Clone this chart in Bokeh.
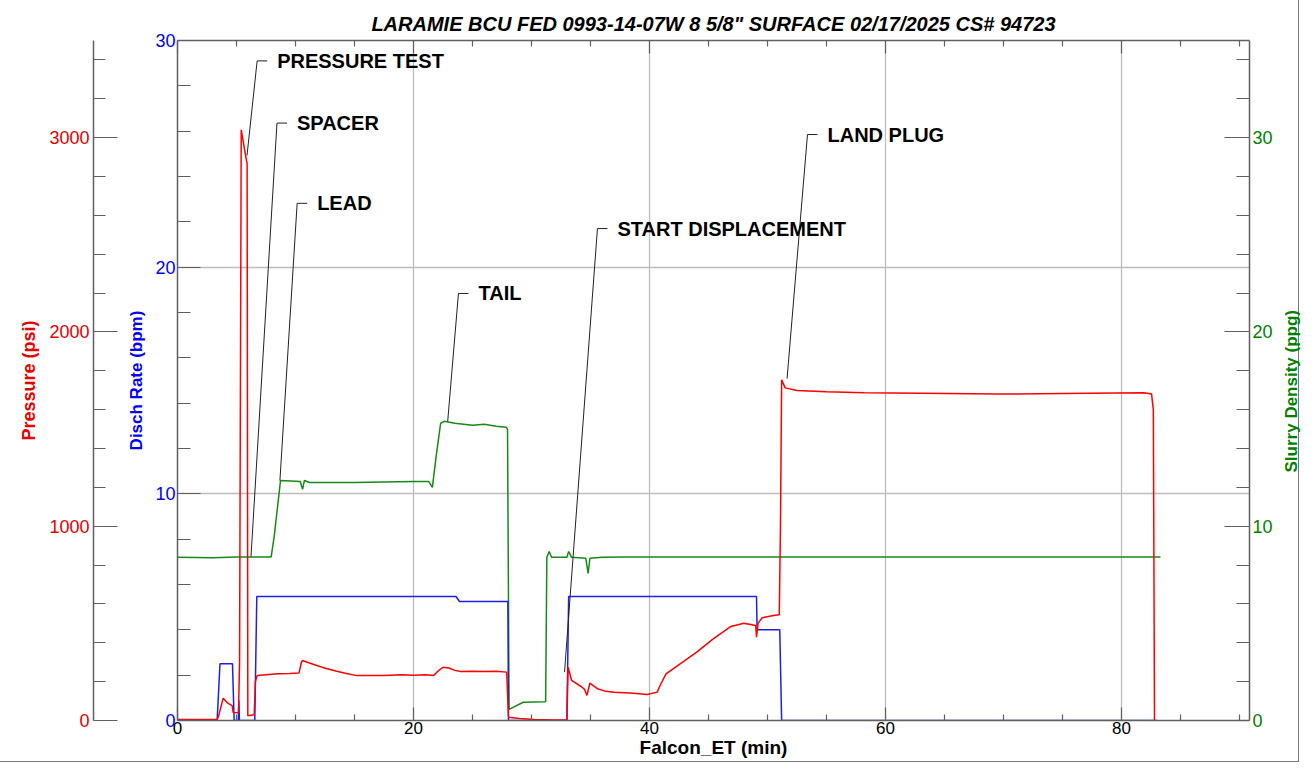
import math
from bokeh.plotting import figure
from bokeh.layouts import row
from bokeh.models import (LinearAxis, Range1d, FixedTicker, Title, ColumnDataSource, Div)
from bokeh.embed import file_html
from bokeh.resources import INLINE
from bokeh.core.properties import value

TITLE = 'LARAMIE BCU FED 0993-14-07W 8 5/8" SURFACE 02/17/2025 CS# 94723'
X_LABEL = "Falcon_ET (min)"
DENS_LABEL = "Slurry Density (ppg)"

# ---------------- data ----------------
press_t = [0, 3.35, 3.47, 3.87, 4.26, 4.63, 4.72, 5.17, 5.26, 5.4, 5.85, 5.9, 5.96, 6.5, 6.6, 6.75,
           7.5, 8.5, 9.5, 10.3, 10.5, 10.6, 11.0, 11.8, 12.6, 13.5, 14.3, 15.2, 16.5, 17.5, 19.0,
           20.0, 21.0, 21.7, 22.0, 22.5, 23.0, 23.5, 24.0, 25.0, 26.0, 27.0, 27.9, 28.05, 29.0,
           30.2, 32.0, 33.0, 33.1, 33.4, 34.2, 34.5, 34.7, 34.95, 35.6, 36.3, 37.0, 38.4, 39.8,
           40.65, 40.9, 41.4, 42.6, 44.0, 45.4, 46.9, 48.0, 49.0, 49.07, 49.2, 49.55, 50.5, 51.0,
           51.1, 51.2, 51.5, 52.5, 55.0, 58.2, 63.0, 69.5, 75.0, 81.9, 82.55, 82.7, 82.8]
press_psi = [5, 5, 20, 115, 89, 77, 41, 40, 300, 3040, 2880, 2870, 25, 30, 200, 231,
             235, 240, 242, 245, 300, 309, 300, 283, 268, 254, 242, 231, 231, 231, 235,
             233, 235, 231, 250, 274, 270, 258, 252, 254, 252, 254, 249, 17, 10,
             5, 3, 3, 274, 206, 175, 160, 129, 192, 163, 150, 146, 141, 134,
             146, 180, 240, 292, 352, 420, 484, 501, 489, 429, 500, 529, 540, 544,
             1000, 1754, 1712, 1698, 1692, 1687, 1684, 1680, 1683, 1687, 1680, 1600, 0]

rate_t = [0, 3.36, 3.6, 4.66, 4.8, 5.15, 5.2, 5.25, 6.55, 6.72, 23.6, 23.9, 28.0, 28.05,
          33.0, 33.15, 49.07, 49.12, 51.04, 51.2, 83.0]
rate_bpm = [0, 0, 2.5, 2.5, 0, 0, 0.88, 0, 0, 5.47, 5.47, 5.25, 5.25, 0,
            0, 5.47, 5.47, 4.0, 4.0, 0, 0]

dens_t = [0, 3.0, 5.0, 7.94, 8.2, 8.73, 10.4, 10.6, 10.75, 11.2, 15.0, 20.0, 21.3, 21.6, 21.9,
          22.3, 22.6, 23.5, 25.0, 26.0, 27.0, 27.85, 27.97, 28.1, 29.3, 31.2, 31.3, 31.5, 31.7,
          33.0, 33.15, 33.4, 34.6, 34.8, 34.95, 36.0, 38.0, 83.3]
dens_ppg = [8.4, 8.38, 8.42, 8.42, 9.5, 12.35, 12.3, 11.9, 12.35, 12.25, 12.25, 12.3, 12.3, 12.0, 13.5,
            15.3, 15.4, 15.3, 15.2, 15.25, 15.15, 15.1, 15.0, 0.57, 0.94, 0.96, 8.4, 8.7, 8.4,
            8.4, 8.7, 8.4, 8.35, 7.57, 8.35, 8.4, 8.42, 8.42]

# annotations: label, target time, target value, axis of the target
ann_labels = ["PRESSURE TEST", "SPACER", "LEAD", "TAIL", "START DISPLACEMENT", "LAND PLUG"]
ann_t = [5.89, 6.23, 8.68, 22.9, 32.8, 51.66]
ann_val = [2908, 8.44, 12.35, 15.4, 249, 1760]
ann_range = ["press", "dens", "dens", "dens", "press", "press"]

# tick definitions
x_major = [0, 20, 40, 60, 80]
x_minor = [5, 10, 15, 25, 30, 35, 45, 50, 55, 65, 70, 75, 85, 90]
rate_major = [0, 10, 20, 30]
rate_minor = [2, 4, 6, 8, 12, 14, 16, 18, 22, 24, 26, 28]
press_major = [0, 1000, 2000, 3000]
press_minor = [200, 400, 600, 800, 1200, 1400, 1600, 1800, 2200, 2400, 2600, 2800, 3200, 3400]
dens_major = [0, 10, 20, 30]
dens_minor = [2, 4, 6, 8, 12, 14, 16, 18, 22, 24, 26, 28, 32, 34]

# ---------------- layout / style ----------------
ann_elbow_t = [6.75, 8.43, 10.14, 23.81, 35.59, 53.39]
ann_elbow_v = [3395, 30.75, 26.62, 21.98, 2532, 3016]
ELBOW_LEN = 0.85  # minutes (~10 px)

FONT = "Liberation Sans"
AX = "#606060"
RED = "#ff0000"
BLUE = "#1f1fe6"
GREEN = "#168a16"
TXT_RED = "#e60000"
TXT_BLUE = "#0000ff"
TXT_GREEN = "#008000"

FIG_W = 1276
LABEL_W = 22
H = 761

p = figure(width=FIG_W, height=H, output_backend="svg", toolbar_location=None,
           x_range=Range1d(0, 90.85), y_range=Range1d(0, 30), title=TITLE,
           min_border_left=177, min_border_right=FIG_W - 1249, min_border_top=40, min_border_bottom=41)
p.outline_line_color = None
p.background_fill_color = "white"
p.border_fill_color = "white"

p.title.text_font = FONT
p.title.text_font_size = "20px"
p.title.text_font_style = "bold italic"
p.title.text_color = "black"
p.title.align = "center"
p.title.vertical_align = "bottom"
p.title.standoff = 12


def style_axis(ax, color, label_color, maj_in, min_in):
    ax.axis_line_color = color
    ax.axis_line_width = 1.5
    ax.major_tick_line_color = color
    ax.minor_tick_line_color = color
    ax.major_tick_line_width = 1.2
    ax.minor_tick_line_width = 1.2
    ax.major_tick_in = maj_in
    ax.major_tick_out = 0
    ax.minor_tick_in = min_in
    ax.minor_tick_out = 0
    ax.major_label_text_font = FONT
    ax.major_label_text_font_size = "18px"
    ax.major_label_text_color = label_color
    ax.axis_label_text_font = FONT
    ax.axis_label_text_font_style = "bold"


# bottom axis (tick labels only; its title is a separate panel below it)
bax = p.below[0]
bax.ticker = FixedTicker(ticks=x_major, minor_ticks=x_minor)
style_axis(bax, AX, "black", 13, 6)
bax.major_label_text_font_size = "17px"
bax.major_label_standoff = 1
p.add_layout(Title(text=X_LABEL, align="center", vertical_align="top", standoff=0,
                   text_font=FONT, text_font_size="19px", text_font_style="bold",
                   text_color="black"), "below")

# blue rate axis (left, inner)
yax = p.left[0]
yax.ticker = FixedTicker(ticks=rate_major, minor_ticks=rate_minor)
style_axis(yax, AX, TXT_BLUE, 23, 13)
yax.major_label_standoff = 2
yax.axis_label = "Disch Rate (bpm)"
yax.axis_label_text_font_size = "17px"
yax.axis_label_text_color = TXT_BLUE
yax.axis_label_standoff = 6

p.extra_y_ranges = {"press": Range1d(0, 3500), "dens": Range1d(0, 35)}

# spacer between the blue and red axes
p.add_layout(Title(text=" ", text_font_size="1px", standoff=28), "left")

# red pressure axis (left, outer)
pax = LinearAxis(y_range_name="press", ticker=FixedTicker(ticks=press_major, minor_ticks=press_minor))
style_axis(pax, AX, TXT_RED, 24, 12)
pax.major_label_standoff = 4
pax.axis_label = "Pressure (psi)"
pax.axis_label_text_font_size = "18px"
pax.axis_label_text_color = TXT_RED
pax.axis_label_standoff = 7
p.add_layout(pax, "left")

# green density axis (right)
gax = LinearAxis(y_range_name="dens", ticker=FixedTicker(ticks=dens_major, minor_ticks=dens_minor))
style_axis(gax, AX, TXT_GREEN, 25, 13)
gax.major_label_standoff = 3
p.add_layout(gax, "right")

# top axis (ticks only)
tax = LinearAxis(ticker=FixedTicker(ticks=x_major, minor_ticks=x_minor))
style_axis(tax, AX, "black", 13, 6)
tax.major_label_text_font_size = "0px"
tax.major_label_standoff = 0
tax.major_label_overrides = {t: "" for t in x_major}
p.add_layout(tax, "above")

# grids
p.xgrid[0].ticker = FixedTicker(ticks=[20, 40, 60, 80])
p.ygrid[0].ticker = FixedTicker(ticks=[10, 20])
for g in (p.xgrid[0], p.ygrid[0]):
    g.grid_line_color = "#bdbdbd"
    g.grid_line_width = 1.3

# series
p.line(dens_t, dens_ppg, y_range_name="dens", line_color=GREEN, line_width=1.5)
p.line(rate_t, rate_bpm, line_color=BLUE, line_width=1.5)
p.line(press_t, press_psi, y_range_name="press", line_color=RED, line_width=1.5)

# annotations
for rn in ("press", "dens"):
    idx = [i for i, r in enumerate(ann_range) if r == rn]
    src = ColumnDataSource(dict(
        t0=[ann_t[i] for i in idx], v0=[ann_val[i] for i in idx],
        t1=[ann_elbow_t[i] for i in idx], v1=[ann_elbow_v[i] for i in idx],
        t2=[ann_elbow_t[i] + ELBOW_LEN for i in idx],
        txt=[ann_labels[i] for i in idx]))
    p.segment("t0", "v0", "t1", "v1", source=src, y_range_name=rn, line_color="#222222", line_width=1)
    p.segment("t1", "v1", "t2", "v1", source=src, y_range_name=rn, line_color="#222222", line_width=1)
    p.text("t1", "v1", text="txt", source=src, y_range_name=rn, x_offset=20,
           text_baseline="middle", text_align="left", text_font=value(FONT),
           text_font_style="bold", text_font_size="20px", text_color="black")

# right-hand axis title (reads bottom-to-top, like the reference)
dens_title = Div(
    text=('<div style="width:%dpx;height:%dpx;display:flex;align-items:center;justify-content:center;">'
          '<span style="writing-mode:vertical-rl;transform:rotate(180deg);position:relative;top:11px;left:5px;'
          'font-family:\'Liberation Sans\';font-weight:bold;font-size:17px;color:%s;white-space:nowrap;">%s</span></div>')
         % (LABEL_W, H, TXT_GREEN, DENS_LABEL),
    width=LABEL_W, height=H, styles={"background-color": "white", "margin": "0", "padding": "0"})

layout = row(p, dens_title, spacing=0)
layout.styles = {"outline": "1px solid #777", "background-color": "white"}

open("out.html", "w").write(file_html(layout, INLINE))
